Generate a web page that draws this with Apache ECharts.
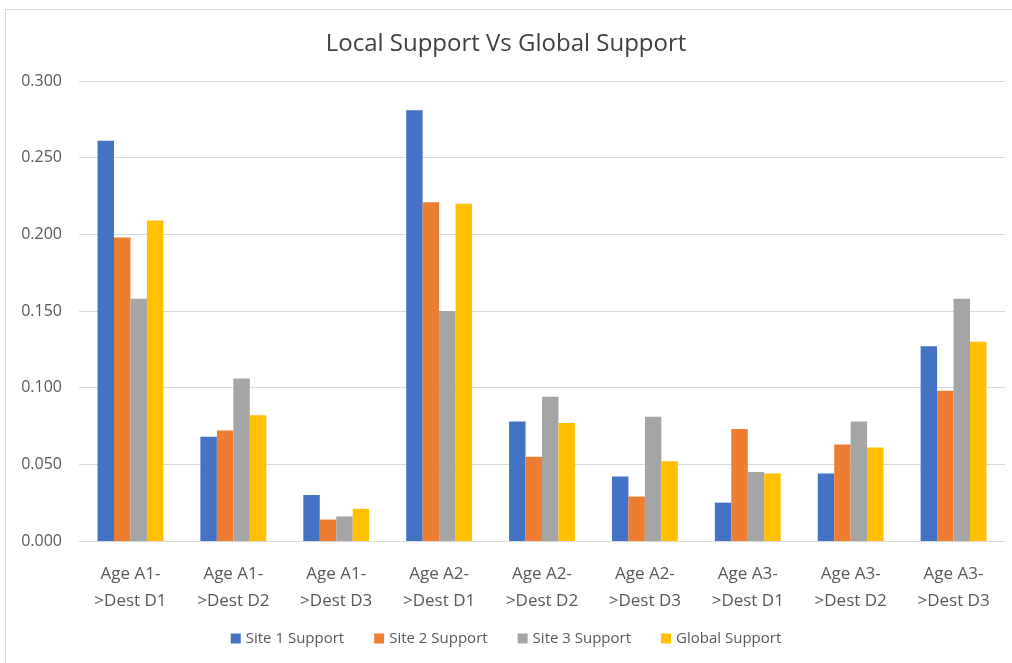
<!DOCTYPE html>
<html>
<head>
<meta charset="utf-8">
<script src="https://cdn.jsdelivr.net/npm/echarts@6/dist/echarts.min.js"></script>
<style>
  html, body { margin: 0; padding: 0; background: #fff; }
  #chart { width: 1012px; height: 663px; }
</style>
</head>
<body>
<div id="chart"></div>
<script>
// Route categories (age group -> destination)
const categories = [
  'Age A1-\n>Dest D1', 'Age A1-\n>Dest D2', 'Age A1-\n>Dest D3',
  'Age A2-\n>Dest D1', 'Age A2-\n>Dest D2', 'Age A2-\n>Dest D3',
  'Age A3-\n>Dest D1', 'Age A3-\n>Dest D2', 'Age A3-\n>Dest D3'
];

// Support values per site and globally
const site1Support  = [0.261, 0.068, 0.030, 0.281, 0.078, 0.042, 0.025, 0.044, 0.127];
const site2Support  = [0.198, 0.072, 0.014, 0.221, 0.055, 0.029, 0.073, 0.063, 0.098];
const site3Support  = [0.158, 0.106, 0.016, 0.150, 0.094, 0.081, 0.045, 0.078, 0.158];
const globalSupport = [0.209, 0.082, 0.021, 0.220, 0.077, 0.052, 0.044, 0.061, 0.130];

const seriesNames = ['Site 1 Support', 'Site 2 Support', 'Site 3 Support', 'Global Support'];
const seriesColors = ['#4472C4', '#ED7D31', '#A5A5A5', '#FFC000'];
const seriesValues = [site1Support, site2Support, site3Support, globalSupport];

const FONT = '"Open Sans", "Noto Sans", sans-serif';

const chart = echarts.init(document.getElementById('chart'));
chart.setOption({
  backgroundColor: '#ffffff',
  animation: false,
  title: {
    text: 'Local Support Vs Global Support',
    left: 'center',
    top: 27,
    textStyle: { fontFamily: FONT, fontSize: 24, fontWeight: 'normal', color: '#404040' }
  },
  legend: {
    bottom: 12,
    left: 'center',
    itemWidth: 10,
    itemHeight: 10,
    itemGap: 30,
    icon: 'rect',
    textStyle: { fontFamily: FONT, fontSize: 15, color: '#595959' },
    data: seriesNames
  },
  grid: { left: 79, right: 7, top: 81, bottom: 122 },
  xAxis: {
    type: 'category',
    data: categories,
    axisTick: { show: false },
    axisLine: { lineStyle: { color: '#d9d9d9', width: 1 } },
    axisLabel: {
      fontFamily: FONT, fontSize: 17, color: '#595959',
      lineHeight: 27, margin: 20, interval: 0
    }
  },
  yAxis: {
    type: 'value',
    min: 0,
    max: 0.3,
    interval: 0.05,
    axisLine: { show: false },
    axisTick: { show: false },
    splitLine: { lineStyle: { color: '#d9d9d9', width: 1 } },
    axisLabel: {
      fontFamily: FONT, fontSize: 16, color: '#595959', margin: 17,
      formatter: v => v.toFixed(3)
    }
  },
  series: seriesNames.map((name, i) => ({
    name: name,
    type: 'bar',
    data: seriesValues[i],
    itemStyle: { color: seriesColors[i] },
    barGap: '0%',
    barCategoryGap: '36%'
  })),
  graphic: [{
    type: 'rect',
    shape: { x: 5.5, y: 9.5, width: 1100, height: 700 },
    style: { fill: 'none', stroke: '#d9d9d9', lineWidth: 1 },
    silent: true
  }]
});
</script>
</body>
</html>
